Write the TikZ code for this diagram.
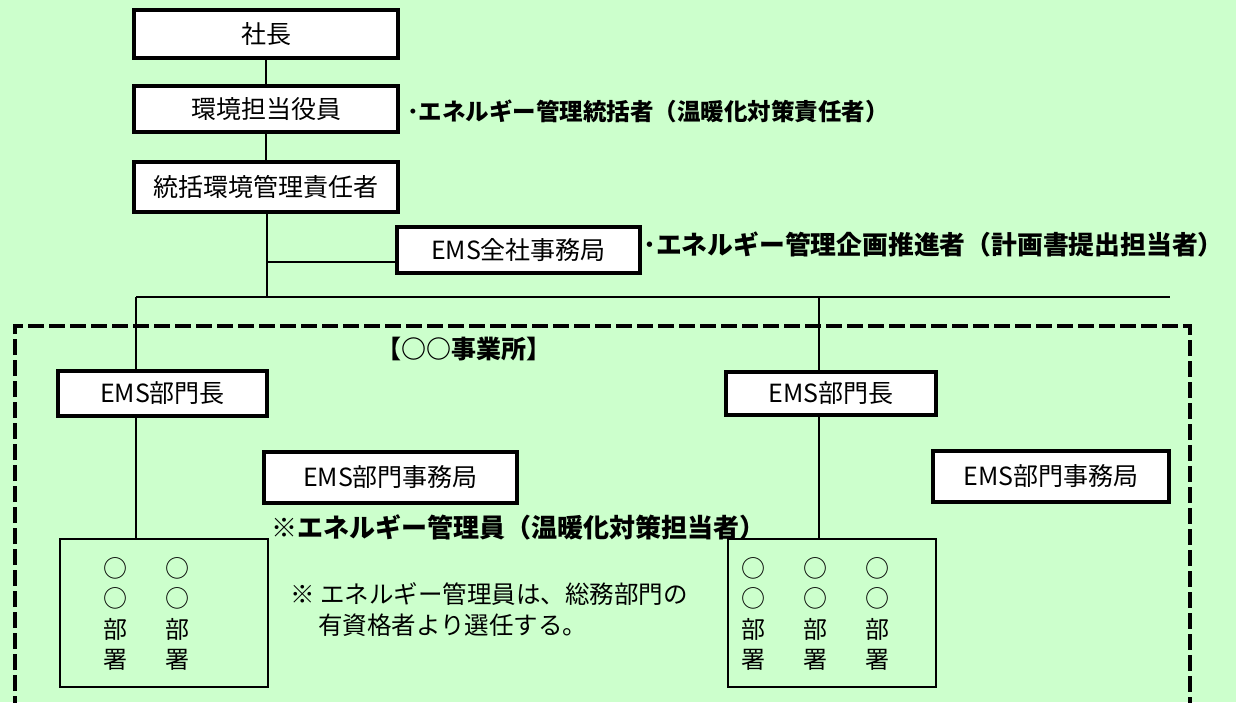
\documentclass[tikz,border=0pt]{standalone}
\usepackage{fontspec}
\setmainfont{Noto Sans CJK JP}
\definecolor{bg}{HTML}{CCFFCC}
\tikzset{
  tb/.style={draw, line width=3.7pt, fill=white, inner sep=0pt, font=\fontsize{25}{29}\selectfont},
  thinbox/.style={draw, line width=2.2pt, fill=none, inner sep=0pt},
  conn/.style={line width=2pt},
  blabel/.style={anchor=west, inner sep=0pt, font=\fontsize{26}{30}\selectfont\bfseries},
  note/.style={anchor=west, inner sep=0pt, font=\fontsize{24.5}{28}\selectfont},
  grid/.style={align=center, inner sep=0pt, font=\fontsize{24}{30.5}\selectfont},
  frame/.style={line width=4pt, dash pattern=on 16pt off 5pt}
}
\begin{document}
\begin{tikzpicture}[x=1pt,y=-1pt]
\fill[bg] (0,0) rectangle (1236,702);
\useasboundingbox (0,0) rectangle (1236,702);

% dashed frame
\draw[frame] (15,712) -- (15,326) -- (1190,326) -- (1190,712);

% top chain
\node[tb, minimum width=264pt, minimum height=48pt] (shacho) at (266,34) {社長};
\node[tb, minimum width=264pt, minimum height=46pt] (kankyo) at (266,109) {環境担当役員};
\node[tb, minimum width=264pt, minimum height=50pt] (tokatsu) at (266,187) {統括環境管理責任者};
\node[tb, minimum width=243pt, minimum height=46pt] (zensha) at (518.5,250) {EMS全社事務局};

\node[blabel, font=\fontsize{23.5}{28}\selectfont\bfseries] (lab1) at (407,111) {･エネルギー管理統括者（温暖化対策責任者）};
\node[blabel, font=\fontsize{25.8}{30}\selectfont\bfseries] (lab2) at (643,244) {･エネルギー管理企画推進者（計画書提出担当者）};

\coordinate (zj) at (267,262);
\coordinate (busL) at (136,297);
\coordinate (busT) at (267,297);
\coordinate (busM) at (819,297);
\coordinate (busR) at (1170,297);

\draw[conn] (shacho.south) -- (kankyo.north);
\draw[conn] (kankyo.south) -- (tokatsu.north);
\draw[conn] (tokatsu.south -| busT) -- (busT);
\draw[conn] (zj) -- (zj -| zensha.west);
\draw[conn] (busL) -- (busR);

% office
\node[blabel, font=\fontsize{25}{29}\selectfont\bfseries] (office) at (376,349) {【○○事業所】};

\node[tb, minimum width=209pt, minimum height=45pt] (buL) at (162.5,393.5) {EMS部門長};
\node[tb, minimum width=210pt, minimum height=43pt] (buR) at (831,393.5) {EMS部門長};
\node[tb, minimum width=253pt, minimum height=51pt] (jimL) at (390.5,477.5) {EMS部門事務局};
\node[tb, minimum width=236pt, minimum height=51pt] (jimR) at (1051,476.5) {EMS部門事務局};

\node[blabel] (kanriin) at (271,527) {※エネルギー管理員（温暖化対策担当者）};

\node[thinbox, minimum width=208pt, minimum height=148pt] (bushoL) at (164,613) {};
\node[thinbox, minimum width=208pt, minimum height=148pt] (bushoR) at (832,613) {};

\node[grid] (gL1) at (115,614) {○\\○\\部\\署};
\node[grid] (gL2) at (177,614) {○\\○\\部\\署};
\node[grid] (gR1) at (753,614) {○\\○\\部\\署};
\node[grid] (gR2) at (815,614) {○\\○\\部\\署};
\node[grid] (gR3) at (877,614) {○\\○\\部\\署};

\node[note] (n1) at (290,594) {※ エネルギー管理員は、総務部門の};
\node[note] (n2) at (318,625) {有資格者より選任する。};

\draw[conn] (busL) -- (busL |- buL.north);
\draw[conn] (buL.south -| busL) -- (bushoL.north -| busL);
\draw[conn] (busM) -- (busM |- buR.north);
\draw[conn] (buR.south -| busM) -- (bushoR.north -| busM);
\end{tikzpicture}
\end{document}
